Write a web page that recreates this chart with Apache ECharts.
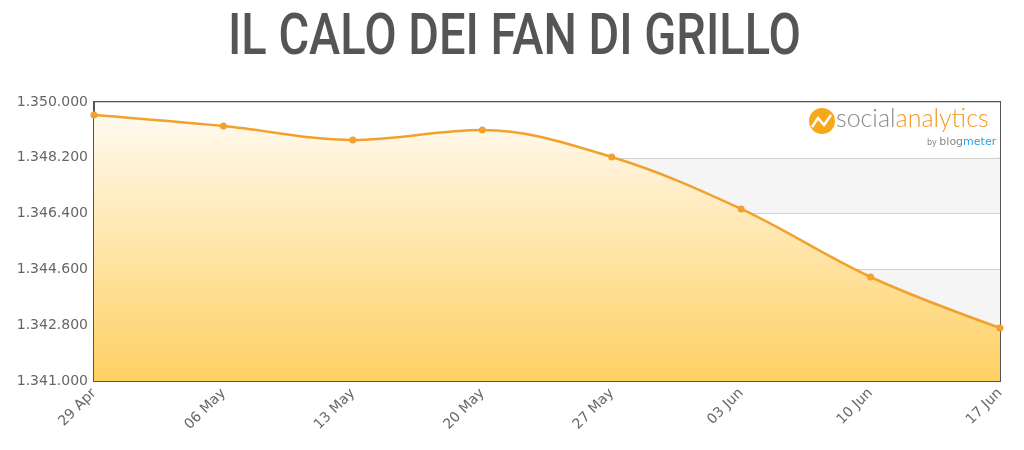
<!DOCTYPE html>
<html><head><meta charset="utf-8">
<script src="https://cdn.jsdelivr.net/npm/echarts@6/dist/echarts.min.js"></script>
<style>html,body{margin:0;padding:0;background:#fff}#c{width:1024px;height:450px}</style>
</head><body><div id="c"></div>
<script>
const categories = ['29 Apr','06 May','13 May','20 May','27 May','03 Jun','10 Jun','17 Jun'];
const fans = [1349580, 1349225, 1348775, 1349095, 1348225, 1346550, 1344355, 1342710];
const yTicks = [1341000, 1342800, 1344600, 1346400, 1348200, 1350000];
const titleText = 'IL CALO DEI FAN DI GRILLO';

function fmt(v){ return String(v).replace(/\B(?=(\d{3})+(?!\d))/g, '.'); }

const chart = echarts.init(document.getElementById('c'));
chart.setOption({
  backgroundColor: '#fff',
  animation: false,
  grid: { left: 94, right: 24, top: 102, bottom: 69, show: true, borderColor: '#555', borderWidth: 2, backgroundColor: 'transparent' },
  xAxis: {
    type: 'category', data: categories, boundaryGap: false,
    axisLine: { lineStyle: { color: '#555', width: 2 } },
    axisTick: { show: false },
    axisLabel: { rotate: 45, color: '#666', fontSize: 14, fontFamily: 'DejaVu Sans', margin: 10 }
  },
  yAxis: {
    type: 'value', min: yTicks[0], max: yTicks[yTicks.length-1], interval: yTicks[1]-yTicks[0],
    axisLine: { show: true, lineStyle: { color: '#555', width: 2 } },
    axisTick: { show: false },
    axisLabel: { color: '#666', fontSize: 14, fontFamily: 'DejaVu Sans', margin: 6, formatter: fmt },
    splitLine: { lineStyle: { color: '#d0d0d0', width: 1 } },
    splitArea: { show: true, areaStyle: { color: ['#ffffff', '#f5f5f5'] } }
  },
  series: [{
    type: 'line', data: fans, smooth: 0.35,
    symbol: 'circle', symbolSize: 7,
    lineStyle: { color: '#F2A22C', width: 2.5 },
    itemStyle: { color: '#F2A22C' },
    areaStyle: {
      opacity: 1,
      color: { type: 'linear', x: 0, y: 0, x2: 0, y2: 1, colorStops: [
        { offset: 0, color: '#FFFAF0' }, { offset: 1, color: '#FFD062' } ] }
    }
  }],
  graphic: [
    { type: 'text', z: 10, scaleX: 0.825, originX: 512, originY: 0, style: {
        x: 515, y: 11, text: titleText, align: 'center', verticalAlign: 'top',
        fontFamily: 'Roboto', fontWeight: 500, fontSize: 57, fill: '#555' } },
    { type: 'circle', shape: { cx: 822, cy: 121, r: 13 }, style: { fill: '#F7A81B' }, z: 10 },
    { type: 'polyline', shape: { points: [[812,127],[818,118],[824,125],[831,115]] }, style: { stroke: '#fff', lineWidth: 2.5, fill: null }, z: 11 },
    { type: 'text', left: 836, top: 106, z: 10, style: {
        text: '{a|social}{b|analytics}',
        rich: { a: { fontSize: 25, fontFamily: 'Lato, sans-serif', fill: '#8a8a8a', fontWeight: 300 },
                b: { fontSize: 25, fontFamily: 'Lato, sans-serif', fill: '#F29A22', fontWeight: 300 } } } },
    { type: 'text', left: 927, top: 137, z: 10, style: {
        text: '{c|by }{d|blog}{e|meter}',
        rich: { c: { fontSize: 8, fill: '#888', fontFamily: 'DejaVu Sans' },
                d: { fontSize: 11, fill: '#888', fontFamily: 'DejaVu Sans' },
                e: { fontSize: 11, fill: '#2E9FE0', fontFamily: 'DejaVu Sans' } } } }
  ]
});
</script></body></html>
